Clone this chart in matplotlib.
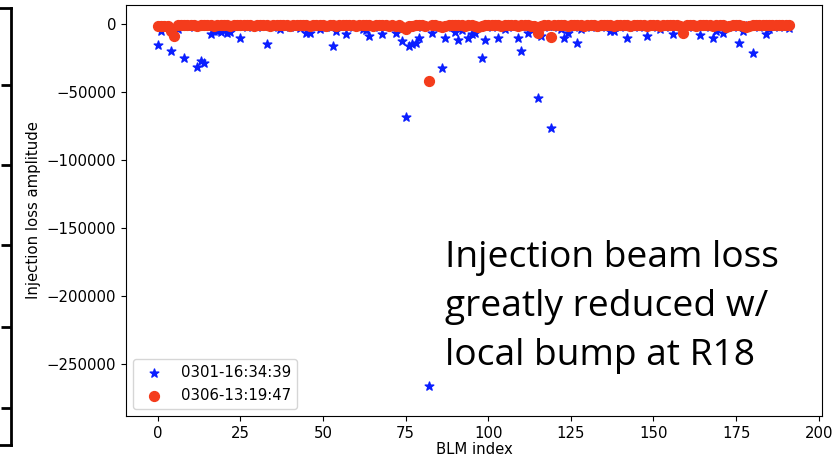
#!/usr/bin/env python3
"""
Injection loss per BLM, before and after the local bump at R18.
Saves the figure as out.png.
"""

import numpy as np
import matplotlib.pyplot as plt

# --- Data ---
blm_index = list(range(192))

label_before = "0301-16:34:39"
label_after = "0306-13:19:47"

loss_before = [
    -14800, -4800, -1500, -2000, -19800, -2500, -3600, -1200, -24500, -1500, -1000, -2000, -31000, -26700, -28000, -1500,
    -7100, -4800, -4800, -5200, -1500, -6400, -5500, -1500, -1000, -10000, -1500, -2000, -1000, -1500, -2000, -1000,
    -1500, -14300, -1500, -2000, -1000, -3600, -1500, -1000, -2000, -1500, -1000, -2400, -1500, -6000, -6000, -1500,
    -1000, -3000, -1500, -2000, -1000, -15500, -4800, -1500, -1000, -7100, -1500, -2000, -1000, -1500, -3600, -4000,
    -8300, -1500, -1000, -2000, -7100, -1500, -1000, -2000, -6400, -1500, -11900, -68000, -16200, -14300, -13600, -10200,
    -2000, -1500, -266000, -6400, -1500, -2000, -31700, -10000, -1500, -2000, -5200, -11200, -4000, -1500, -10000, -7100,
    -6000, -2000, -25000, -11400, -1500, -2000, -1000, -10000, -1500, -3600, -2000, -1000, -1500, -10000, -19800, -1500,
    -6400, -3000, -1500, -54300, -8800, -2000, -1500, -76000, -1500, -2000, -3600, -10000, -6000, -1500, -2000, -13800,
    -3600, -1500, -1500, -2000, -1000, -1500, -2000, -1000, -1500, -4800, -4800, -1500, -2000, -1000, -10200, -1500,
    -2000, -1000, -1500, -2000, -8800, -1500, -1000, -2000, -3000, -1500, -1000, -2000, -6700, -1500, -1000, -2000,
    -1500, -1000, -2000, -1500, -7600, -1500, -1000, -2000, -10200, -4800, -1500, -6400, -1500, -1000, -2000, -1500,
    -13800, -4800, -1500, -1000, -20700, -1500, -2000, -1000, -6700, -3600, -1500, -1000, -2000, -1500, -1000, -2900,
]

loss_after = [
    -1000, -1200, -800, -900, -4500, -8500, -600, -500, -700, -400, -600, -500, -800, -400, -700, -500,
    -600, -900, -500, -700, -400, -600, -800, -500, -300, -700, -500, -600, -400, -800, -500, -700,
    -600, -400, -900, -500, -700, -600, -400, -500, -800, -600, -500, -700, -400, -600, -1000, -500,
    -700, -400, -600, -800, -500, -700, -1500, -600, -400, -700, -500, -600, -900, -500, -700, -400,
    -600, -800, -500, -700, -600, -400, -900, -500, -1200, -700, -1800, -3000, -1500, -900, -600, -700,
    -500, -800, -41700, -600, -700, -1000, -2000, -900, -600, -500, -700, -400, -600, -800, -500, -700,
    -1000, -2200, -800, -600, -500, -700, -400, -600, -800, -500, -700, -600, -400, -900, -500, -700,
    -600, -800, -1000, -6000, -1500, -700, -600, -9500, -500, -700, -600, -400, -800, -500, -700, -600,
    -500, -900, -700, -400, -600, -800, -500, -700, -600, -400, -900, -500, -700, -600, -500, -800,
    -400, -700, -600, -500, -900, -700, -400, -600, -800, -500, -700, -600, -400, -600, -900, -6400,
    -700, -500, -600, -800, -400, -700, -500, -600, -900, -700, -500, -600, -1600, -800, -600, -700,
    -500, -1000, -2200, -800, -600, -500, -700, -400, -600, -500, -700, -600, -500, -400, -600, -500,
]

note_text = "Injection beam loss\ngreatly reduced w/\nlocal bump at R18"

W, H = 834, 459


def main():
    plt.rcParams["font.size"] = 10.7
    fig = plt.figure(figsize=(W / 100, H / 100), dpi=100)

    # cropped edge of a neighbouring plot on the far left
    side = fig.add_axes([-0.2, 1 - 445 / H, 0.2 + 11 / W, (445 - 8) / H])
    side.set_xticks([])
    side.set_ylim(0, 437)
    side.set_yticks([445 - 85, 445 - 165, 445 - 245, 445 - 327, 445 - 408])
    side.yaxis.tick_right()
    side.tick_params(axis="y", direction="in", length=7, width=2, labelright=False)
    for s in side.spines.values():
        s.set_linewidth(2)

    ax = fig.add_axes([126 / W, 1 - 416 / H, (822 - 126) / W, (416 - 5) / H])
    ax.scatter(blm_index, loss_before, marker="*", s=42, color="#0a1eff", label=label_before, zorder=2)
    ax.scatter(blm_index, loss_after, marker="o", s=50, color="#f43c1c", label=label_after, zorder=3)

    ax.set_xlim(-9.6, 201)
    ax.set_ylim(-288000, 14300)
    ax.set_xticks(np.arange(0, 201, 25))
    ax.set_yticks(np.arange(-250000, 1, 50000))
    ax.set_xlabel("BLM index", labelpad=1)
    ax.set_ylabel("Injection loss amplitude")
    ax.legend(loc="lower left")

    fig.text(445 / W, 1 - 307 / H, note_text, fontsize=26.7, family="Open Sans",
             va="center", ha="left", linespacing=1.47)

    fig.savefig("out.png", dpi=100)


if __name__ == "__main__":
    main()
